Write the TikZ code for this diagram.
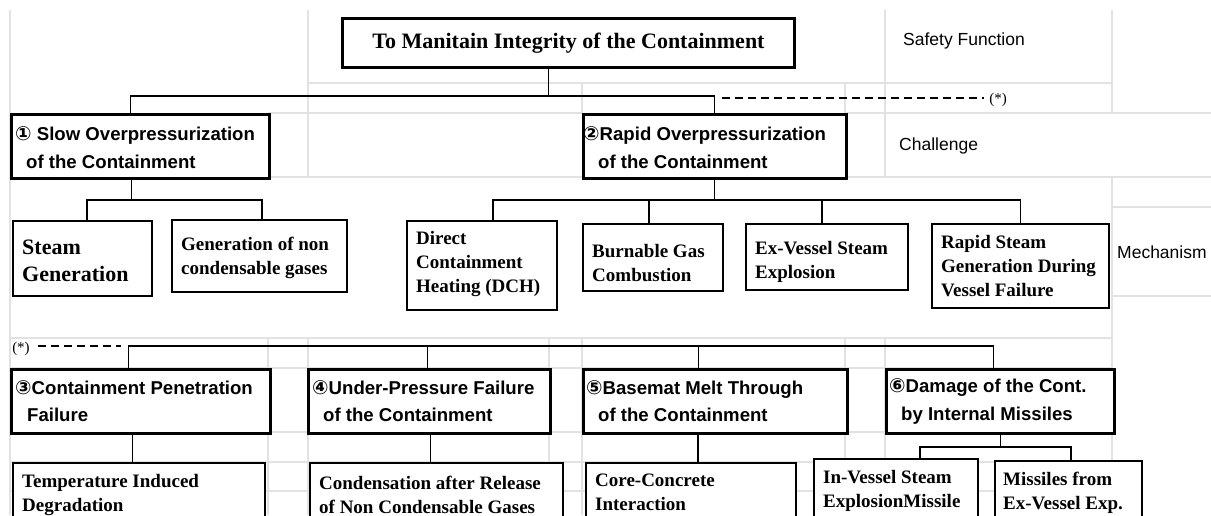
\documentclass[tikz,border=0pt]{standalone}
\usepackage{fontspec}
\setmainfont{Liberation Serif}
\newfontfamily\sansf{Liberation Sans}
\newfontfamily\circf{DejaVu Sans}
\definecolor{gridc}{RGB}{226,226,226}
\newcommand{\circd}[1]{{\circf\fontsize{19.5}{16}\selectfont #1}}
\begin{document}
\begin{tikzpicture}[x=1pt,y=-1pt,
  gline/.style={draw=gridc, line width=1.2pt},
  ttl/.style={draw, line width=3pt, fill=white, inner sep=0pt, anchor=north west},
  chal/.style={draw, line width=2.6pt, fill=white, inner sep=0pt, anchor=north west},
  mech/.style={draw, line width=2.2pt, fill=white, inner sep=0pt, anchor=north west},
  ctext/.style={anchor=west, align=left, inner sep=0pt, font=\sansf\bfseries\fontsize{18.6}{27.5}\selectfont},
  mtext/.style={anchor=west, align=left, inner sep=0pt, font=\bfseries\fontsize{19}{24}\selectfont},
  side/.style={anchor=west, inner sep=0pt, font=\sansf\fontsize{17.5}{20}\selectfont},
  conn/.style={line width=1.6pt},
  dconn/.style={line width=1.6pt, dash pattern=on 8pt off 5pt},
  star/.style={inner sep=0pt, font=\fontsize{15}{16}\selectfont}]
\useasboundingbox (0,0) rectangle (1211,515);
\clip (0,0) rectangle (1211,515);
\fill[white] (0,0) rectangle (1211,515);
% background grid
\draw[gline] (10,10) -- (10,515);
\draw[gline] (308,10) -- (308,177);
\draw[gline] (885,10) -- (885,177);
\draw[gline] (1112,10) -- (1112,113);
\draw[gline] (1112,177) -- (1112,515);
\draw[gline] (582,83) -- (582,113);
\draw[gline] (845,83) -- (845,113);
\draw[gline] (308,83) -- (1112,83);
\draw[gline] (268,113) -- (582,113);
\draw[gline] (845,113) -- (1211,113);
\draw[gline] (268,177) -- (582,177);
\draw[gline] (845,177) -- (1211,177);
\draw[gline] (1112,207) -- (1211,207);
\draw[gline] (1112,296) -- (1211,296);
\foreach \yy in {338,368,432,462,491} \draw[gline] (10,\yy) -- (1112,\yy);
\foreach \xx in {268,308,549,582,845,885} \draw[gline] (\xx,338) -- (\xx,515);
% boxes
\node[ttl, minimum width=452pt, minimum height=49pt, font=\bfseries\fontsize{22}{26}\selectfont] (title) at (341,17) {To Manitain Integrity of the Containment};
\node[chal, minimum width=258pt, minimum height=64pt] (b1) at (10,113) {};
\node[chal, minimum width=263pt, minimum height=64pt] (b2) at (582,113) {};
\node[mech, minimum width=139pt, minimum height=75pt] (m1) at (12,220) {};
\node[mech, minimum width=175pt, minimum height=72pt] (m2) at (171,219) {};
\node[mech, minimum width=150pt, minimum height=89pt] (m3) at (406,220) {};
\node[mech, minimum width=140pt, minimum height=67pt] (m4) at (582,223) {};
\node[mech, minimum width=162pt, minimum height=66pt] (m5) at (745,223) {};
\node[mech, minimum width=177pt, minimum height=84pt] (m6) at (931,223) {};
\node[chal, minimum width=259pt, minimum height=64pt] (b3) at (10,368) {};
\node[chal, minimum width=242pt, minimum height=64pt] (b4) at (307,368) {};
\node[chal, minimum width=264pt, minimum height=64pt] (b5) at (582,368) {};
\node[chal, minimum width=228pt, minimum height=64pt] (b6) at (885,368) {};
\node[mech, minimum width=252pt, minimum height=64pt] (m7) at (12,462) {};
\node[mech, minimum width=253pt, minimum height=63pt] (m8) at (309,462) {};
\node[mech, minimum width=210pt, minimum height=59pt] (m9) at (585,462) {};
\node[mech, minimum width=164pt, minimum height=63pt] (m10) at (813,458) {};
\node[mech, minimum width=147pt, minimum height=63pt] (m11) at (994,460) {};
% texts
\node[ctext] (b1t) at ([xshift=5pt,yshift=-1.5pt]b1.west) {\circd{①} Slow Overpressurization\\\hspace*{11pt}of the Containment};
\node[ctext] (b2t) at ([xshift=1pt,yshift=-1.5pt]b2.west) {\circd{②}Rapid Overpressurization\\\hspace*{15pt}of the Containment};
\node[ctext] (b3t) at ([xshift=5pt]b3.west) {\circd{③}Containment Penetration\\\hspace*{12pt}Failure};
\node[ctext] (b4t) at ([xshift=5pt]b4.west) {\circd{④}Under-Pressure Failure\\\hspace*{11pt}of the Containment};
\node[ctext] (b5t) at ([xshift=4pt]b5.west) {\circd{⑤}Basemat Melt Through\\\hspace*{12pt}of the Containment};
\node[ctext] (b6t) at ([xshift=4pt]b6.west) {\circd{⑥}Damage of the Cont.\\\hspace*{12pt}by Internal Missiles};
\node[mtext, font=\bfseries\fontsize{22}{27}\selectfont] (m1t) at ([xshift=10pt,yshift=-2pt]m1.west) {Steam\\Generation};
\node[mtext] (m2t) at ([xshift=10pt,yshift=-2pt]m2.west) {Generation of non\\condensable gases};
\node[mtext] (m3t) at ([xshift=10pt,yshift=1.5pt]m3.west) {Direct\\Containment\\Heating (DCH)};
\node[mtext] (m4t) at ([xshift=10pt,yshift=-5pt]m4.west) {Burnable Gas\\Combustion};
\node[mtext] (m5t) at ([xshift=10pt,yshift=-5pt]m5.west) {Ex-Vessel Steam\\Explosion};
\node[mtext] (m6t) at ([xshift=10pt]m6.west) {Rapid Steam\\Generation During\\Vessel Failure};
\node[mtext] (m7t) at ([xshift=10pt]m7.west) {Temperature Induced\\Degradation};
\node[mtext] (m8t) at ([xshift=10pt]m8.west) {Condensation after Release\\of Non Condensable Gases};
\node[mtext] (m9t) at ([xshift=10pt]m9.west) {Core-Concrete\\Interaction};
\node[mtext] (m10t) at ([xshift=10pt]m10.west) {In-Vessel Steam\\ExplosionMissile};
\node[mtext] (m11t) at ([xshift=9pt]m11.west) {Missiles from\\Ex-Vessel Exp.};
% side labels
\node[side] (lsf) at (903,41) {Safety Function};
\node[side] (lch) at (899,146) {Challenge};
\node[side] (lme) at (1117,252) {Mechanism};
% connectors
\coordinate (bus0) at (0,96);
\coordinate (bus1) at (0,200);
\coordinate (bus2) at (0,346);
\coordinate (bus3) at (0,447);
\coordinate (ts) at ([xshift=-20pt]title.south);
\coordinate (b1n) at ([xshift=-10pt]b1.north);
\coordinate (b2n) at ([xshift=-0.5pt]b2.north);
\draw[conn] (ts) -- (ts |- bus0);
\draw[conn] (b1n) |- (bus0 -| b2n) -- (b2n);
\coordinate (da) at (722,98);
\coordinate (db) at (984,98);
\draw[dconn] (da) -- (db);
\node[star] (s1) at (998,100) {(*)};
\coordinate (b1s) at ([xshift=-9pt]b1.south);
\coordinate (m1n) at ([xshift=4.5pt]m1.north);
\coordinate (m2n) at ([xshift=2.5pt]m2.north);
\draw[conn] (b1s) -- (b1s |- bus1);
\draw[conn] (m1n) |- (bus1 -| m2n) -- (m2n);
\coordinate (b2s) at ([xshift=-0.5pt]b2.south);
\coordinate (m3n) at ([xshift=11pt]m3.north);
\coordinate (m4n) at ([xshift=-4pt]m4.north);
\coordinate (m5n) at ([xshift=-5pt]m5.north);
\coordinate (m6n) at (m6.north);
\draw[conn] (b2s) -- (b2s |- bus1);
\draw[conn] (m3n) |- (bus1 -| m6n) -- (m6n);
\draw[conn] (m4n) -- (m4n |- bus1);
\draw[conn] (m5n) -- (m5n |- bus1);
\coordinate (dc) at (38,346);
\coordinate (dd) at (121,346);
\draw[dconn] (dc) -- (dd);
\node[star] (s2) at (21,349) {(*)};
\coordinate (b3n) at ([xshift=-12.5pt]b3.north);
\coordinate (b4n) at ([xshift=-2pt]b4.north);
\coordinate (b5n) at ([xshift=-17pt]b5.north);
\coordinate (b6n) at ([xshift=-7pt]b6.north);
\draw[conn] (b3n) |- (bus2 -| b6n) -- (b6n);
\draw[conn] (b4n) -- (b4n |- bus2);
\draw[conn] (b5n) -- (b5n |- bus2);
\coordinate (b3s) at ([xshift=-8.5pt]b3.south);
\coordinate (b4s) at ([xshift=1pt]b4.south);
\coordinate (b5s) at ([xshift=-17.5pt]b5.south);
\coordinate (b6s) at (b6.south);
\draw[conn] (b3s) -- (b3s |- m7.north);
\draw[conn] (b4s) -- (b4s |- m8.north);
\draw[conn] (b5s) -- (b5s |- m9.north);
\coordinate (m10n) at ([xshift=24pt]m10.north);
\coordinate (m11n) at ([xshift=2.5pt]m11.north);
\draw[conn] (b6s) -- (b6s |- bus3);
\draw[conn] (m10n) |- (bus3 -| m11n) -- (m11n);
\end{tikzpicture}
\end{document}
